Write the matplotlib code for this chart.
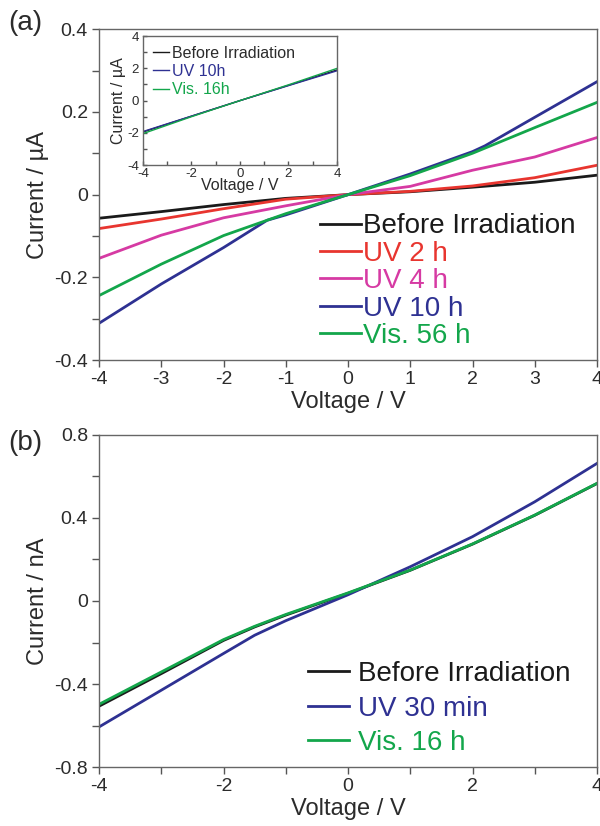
import matplotlib
matplotlib.use("Agg")
import matplotlib.pyplot as plt
from matplotlib.ticker import MultipleLocator

plt.rcParams['font.family'] = ['Liberation Sans', 'DejaVu Sans']
plt.rcParams['text.color'] = '#2b2b2b'
plt.rcParams['axes.labelcolor'] = '#2b2b2b'
plt.rcParams['xtick.color'] = '#555555'
plt.rcParams['ytick.color'] = '#555555'
plt.rcParams['xtick.labelcolor'] = '#2b2b2b'
plt.rcParams['ytick.labelcolor'] = '#2b2b2b'

# colores de las curvas
c_negro = '#1a1a1a'
c_rojo = '#e8352f'
c_magenta = '#d63aa3'
c_azul = '#2e3192'
c_verde = '#13a64b'

# ---- panel (a): corriente en uA
va = [-4, -3, -2, -1, 0, 1, 2, 3, 4]
antes_a = [-0.057, -0.041, -0.024, -0.009, 0.0, 0.007, 0.018, 0.030, 0.047]
uv2h = [-0.082, -0.059, -0.034, -0.011, 0.0, 0.008, 0.021, 0.041, 0.071]
uv4h = [-0.154, -0.098, -0.056, -0.027, 0.0, 0.020, 0.059, 0.091, 0.138]
va_uv10 = [-4, -3, -2, -1.3, -1, 0, 1, 2, 2.2, 3, 4]
uv10h = [-0.311, -0.216, -0.128, -0.062, -0.049, 0.0, 0.050, 0.104, 0.118, 0.187, 0.273]
vis56h = [-0.244, -0.168, -0.099, -0.046, 0.0, 0.046, 0.100, 0.162, 0.223]

# ---- inset: corriente en uA
vi = [-4, -2, 0, 2, 4]
antes_i = [-1.95, -0.97, 0.0, 0.95, 1.90]
uv10_i = [-1.92, -0.96, 0.0, 0.93, 1.85]
vis16_i = [-2.05, -1.0, 0.0, 0.98, 2.0]

# ---- panel (b): corriente en nA
vb = [-4, -3, -2, -1.5, -1, 0, 1, 2, 3, 4]
antes_b = [-0.507, -0.350, -0.190, -0.125, -0.068, 0.037, 0.148, 0.274, 0.413, 0.566]
uv30 = [-0.607, -0.430, -0.253, -0.165, -0.095, 0.030, 0.165, 0.310, 0.478, 0.663]
vis16h = [-0.498, -0.342, -0.186, -0.122, -0.065, 0.039, 0.149, 0.275, 0.414, 0.567]

fig = plt.figure(figsize=(6, 8.26), dpi=100)

def estilo(ax, fs):
    for s in ax.spines.values():
        s.set_color('#666666')
        s.set_linewidth(1.0)
    ax.tick_params(which='both', direction='out', top=False, right=False,
                   labelsize=fs, length=5, width=1.0, pad=3)
    ax.tick_params(which='minor', length=5)

# panel (a)
ax1 = fig.add_axes([0.165, 0.564, 0.83, 0.4007])
ax1.plot(va, antes_a, color=c_negro, lw=2, label='Before Irradiation')
ax1.plot(va, uv2h, color=c_rojo, lw=2, label='UV 2 h')
ax1.plot(va, uv4h, color=c_magenta, lw=2, label='UV 4 h')
ax1.plot(va_uv10, uv10h, color=c_azul, lw=2, label='UV 10 h')
ax1.plot(va, vis56h, color=c_verde, lw=2, label='Vis. 56 h')
ax1.set_xlim(-4, 4)
ax1.set_ylim(-0.4, 0.4)
ax1.set_xticks([-4, -3, -2, -1, 0, 1, 2, 3, 4])
ax1.set_xticklabels(['-4', '-3', '-2', '-1', '0', '1', '2', '3', '4'])
ax1.set_yticks([-0.4, -0.2, 0, 0.2, 0.4])
ax1.set_yticklabels(['-0.4', '-0.2', '0', '0.2', '0.4'])
ax1.yaxis.set_minor_locator(MultipleLocator(0.1))
estilo(ax1, 14)
ax1.set_xlabel('Voltage / V', fontsize=17, labelpad=2)
ax1.set_ylabel('Current / µA', fontsize=17, labelpad=4)
leg = ax1.legend(loc='lower right', bbox_to_anchor=(0.995, -0.025), frameon=False,
                 fontsize=20, handlelength=1.5, handletextpad=0.05,
                 labelspacing=0.05, borderaxespad=0.3)
for t, l in zip(leg.get_texts(), leg.get_lines()):
    t.set_color(l.get_color())
fig.text(0.013, 0.972, '(a)', fontsize=20, va='center')

# inset
axi = fig.add_axes([0.2383, 0.8002, 0.3233, 0.156])
axi.plot(vi, antes_i, color=c_negro, lw=1, label='Before Irradiation')
axi.plot(vi, uv10_i, color=c_azul, lw=1, label='UV 10h')
axi.plot(vi, vis16_i, color=c_verde, lw=1, label='Vis. 16h')
axi.set_xlim(-4, 4)
axi.set_ylim(-4, 4)
axi.set_xticks([-4, -2, 0, 2, 4])
axi.set_xticklabels(['-4', '-2', '0', '2', '4'])
axi.set_yticks([-4, -2, 0, 2, 4])
axi.set_yticklabels(['-4', '-2', '0', '2', '4'])
axi.xaxis.set_minor_locator(MultipleLocator(1))
axi.yaxis.set_minor_locator(MultipleLocator(1))
estilo(axi, 9.5)
axi.tick_params(which='both', direction='in', length=3)
axi.tick_params(axis='x', pad=2)
axi.tick_params(axis='y', pad=3)
axi.set_xlabel('Voltage / V', fontsize=11.5, labelpad=-1)
axi.set_ylabel('Current / µA', fontsize=11.5, labelpad=1)
legi = axi.legend(loc='upper left', frameon=False, fontsize=11.5,
                  handlelength=1.0, handletextpad=0.2, labelspacing=0.2,
                  borderaxespad=0.2)
for t, l in zip(legi.get_texts(), legi.get_lines()):
    t.set_color(l.get_color())
legi.get_texts()[0].set_color('#2b2b2b')

# panel (b)
ax2 = fig.add_axes([0.165, 0.0714, 0.83, 0.402])
ax2.plot(vb, antes_b, color=c_negro, lw=2, label='Before Irradiation')
ax2.plot(vb, uv30, color=c_azul, lw=2, label='UV 30 min')
ax2.plot(vb, vis16h, color=c_verde, lw=2, label='Vis. 16 h')
ax2.set_xlim(-4, 4)
ax2.set_ylim(-0.8, 0.8)
ax2.set_xticks([-4, -2, 0, 2, 4])
ax2.set_xticklabels(['-4', '-2', '0', '2', '4'])
ax2.xaxis.set_minor_locator(MultipleLocator(1))
ax2.set_yticks([-0.8, -0.4, 0, 0.4, 0.8])
ax2.set_yticklabels(['-0.8', '-0.4', '0', '0.4', '0.8'])
ax2.yaxis.set_minor_locator(MultipleLocator(0.2))
estilo(ax2, 14)
ax2.set_xlabel('Voltage / V', fontsize=17, labelpad=2)
ax2.set_ylabel('Current / nA', fontsize=17, labelpad=4)
leg2 = ax2.legend(loc='lower right', bbox_to_anchor=(0.985, -0.025), frameon=False,
                  fontsize=20, handlelength=1.5, handletextpad=0.3,
                  labelspacing=0.3, borderaxespad=0.3)
for t, l in zip(leg2.get_texts(), leg2.get_lines()):
    t.set_color(l.get_color())
fig.text(0.013, 0.464, '(b)', fontsize=20, va='center')

fig.savefig('out.png', dpi=100)
